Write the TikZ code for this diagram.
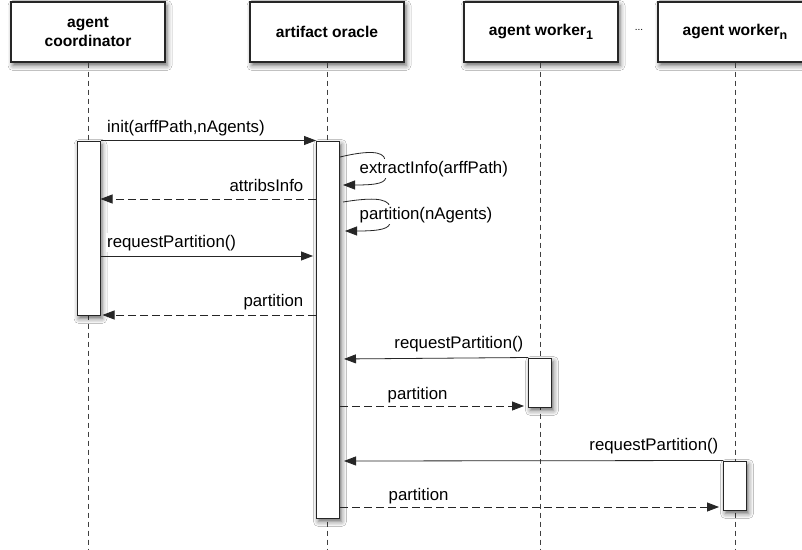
\documentclass[tikz,border=0pt]{standalone}
\usepackage{fontspec}
\setmainfont{Liberation Sans}
\usetikzlibrary{arrows.meta,positioning,shadows.blur}

\newcommand{\lowsub}[1]{\raisebox{-4.5pt}{\fontsize{12.5}{12.5}\selectfont #1}}

\begin{document}
\begin{tikzpicture}[
    x=1pt, y=-1pt,
    >={Triangle[length=12pt,width=9pt]},
    shadowed/.style={blur shadow={shadow xshift=2pt, shadow yshift=-3.5pt,
                     shadow blur radius=5pt, shadow opacity=60}},
    actor/.style={draw=black!85, line width=1.1pt, fill=white, shadowed,
                  minimum width=154pt, minimum height=60pt, align=center,
                  font=\fontsize{15.6}{19}\selectfont\bfseries},
    activ/.style={draw=black!85, line width=1pt, fill=white, shadowed,
                  minimum width=23pt, inner sep=0pt},
    lifeline/.style={black!75, line width=0.8pt, dash pattern=on 5pt off 4pt},
    call/.style={->, black!85, line width=0.8pt},
    reply/.style={call, dash pattern=on 8pt off 4pt},
    lbl/.style={font=\fontsize{16.8}{18}\selectfont, inner sep=1.5pt, fill=white}
  ]
    \fill[white] (0,0) rectangle (802,549);
    \useasboundingbox (0,0) rectangle (802,549);
    \coordinate (bottom) at (0,549);

    % Participants
    \node[actor] (coord)   at (88,32)  {agent\\coordinator};
    \node[actor] (oracle)  at (327,32) {artifact oracle};
    \node[actor] (worker1) at (541,32) {agent worker\lowsub{1}};
    \node[actor] (workern) at (735,32) {agent worker\lowsub{n}};
    \node[font=\fontsize{10}{12}\selectfont] (dots) at (639,30) {...};

    % Lifelines
    \draw[lifeline] (coord.south)   -- (coord.south |- bottom);
    \draw[lifeline] (oracle.south)  -- (oracle.south |- bottom);
    \draw[lifeline] ([xshift=-1pt]worker1.south) -- ([xshift=-1pt]worker1.south |- bottom);
    \draw[lifeline] (workern.south) -- (workern.south |- bottom);

    % Activations
    \node[activ, minimum height=174pt] (actC)  at (88.5,228)   {};
    \node[activ, minimum height=377pt] (actO)  at (328,329.5)  {};
    \node[activ, minimum height=49pt]  (actW1) at (540,382.5)  {};
    \node[activ, minimum height=49pt]  (actWn) at (735,485.5)  {};

    % Message levels
    \coordinate (m2) at (0,199);
    \coordinate (m3) at (0,256);
    \coordinate (m4) at (0,315);
    \coordinate (m5) at (0,359);
    \coordinate (m6) at (0,406);
    \coordinate (m7) at (0,461);
    \coordinate (m8) at (0,507);
    \coordinate (s1a) at (0,157);
    \coordinate (s1b) at (0,185);
    \coordinate (s2a) at (0,202);
    \coordinate (s2b) at (0,231);

    % Coordinator <-> oracle
    \draw[call] (actC.north east) -- (actO.north west);
    \node[lbl, anchor=base west] (l1) at ([xshift=5pt,yshift=8pt]actC.north east) {init(arffPath,nAgents)};

    \draw[call] (actO.east |- s1a) .. controls (365,151) and (384,150) .. (385,160)
       -- (386,175) .. controls (387,183) and (378,185) .. ([xshift=3pt]actO.east |- s1b);
    \node[lbl, anchor=base west] (l2) at ([xshift=18pt,yshift=-16pt]actO.east |- s1a) {extractInfo(arffPath)};

    \draw[reply] (actO.west |- m2) -- (actC.east |- m2);
    \node[lbl, anchor=base east] (l3) at ([xshift=-11pt,yshift=8pt]actO.west |- m2) {attribsInfo};

    \draw[call] ([xshift=3pt]actO.east |- s2a) .. controls (368,198) and (388,197) .. (390,207)
       -- (390,221) .. controls (391,229) and (380,231) .. ([xshift=5pt]actO.east |- s2b);
    \node[lbl, anchor=base west] (l4) at ([xshift=18pt,yshift=-17pt]actO.east |- s2a) {partition(nAgents)};

    \draw[call, shorten >=3pt] (actC.east |- m3) -- (actO.west |- m3);
    \node[lbl, anchor=base west] (l5) at ([xshift=5pt,yshift=9pt]actC.east |- m3) {requestPartition()};

    \draw[reply, shorten >=2pt] (actO.west |- m4) -- (actC.east |- m4);
    \node[lbl, anchor=base east] (l6) at ([xshift=-11pt,yshift=9pt]actO.west |- m4) {partition};

    % Oracle <-> workers
    \draw[call, shorten >=4pt] (actW1.north west) -- (actO.east |- m5);
    \node[lbl, anchor=base east] (l7) at ([xshift=-3pt,yshift=9pt]actW1.north west) {requestPartition()};

    \draw[reply, shorten >=4pt] (actO.east |- m6) -- (actW1.west |- m6);
    \node[lbl, anchor=base west] (l8) at ([xshift=46pt,yshift=7pt]actO.east |- m6) {partition};

    \draw[call, shorten >=4pt] (actWn.north west) -- (actO.east |- m7);
    \node[lbl, anchor=base east] (l9) at ([xshift=-3pt,yshift=10pt]actWn.north west) {requestPartition()};

    \draw[reply, shorten >=4pt] (actO.east |- m8) -- (actWn.west |- m8);
    \node[lbl, anchor=base west] (l10) at ([xshift=47pt,yshift=7pt]actO.east |- m8) {partition};
\end{tikzpicture}
\end{document}
